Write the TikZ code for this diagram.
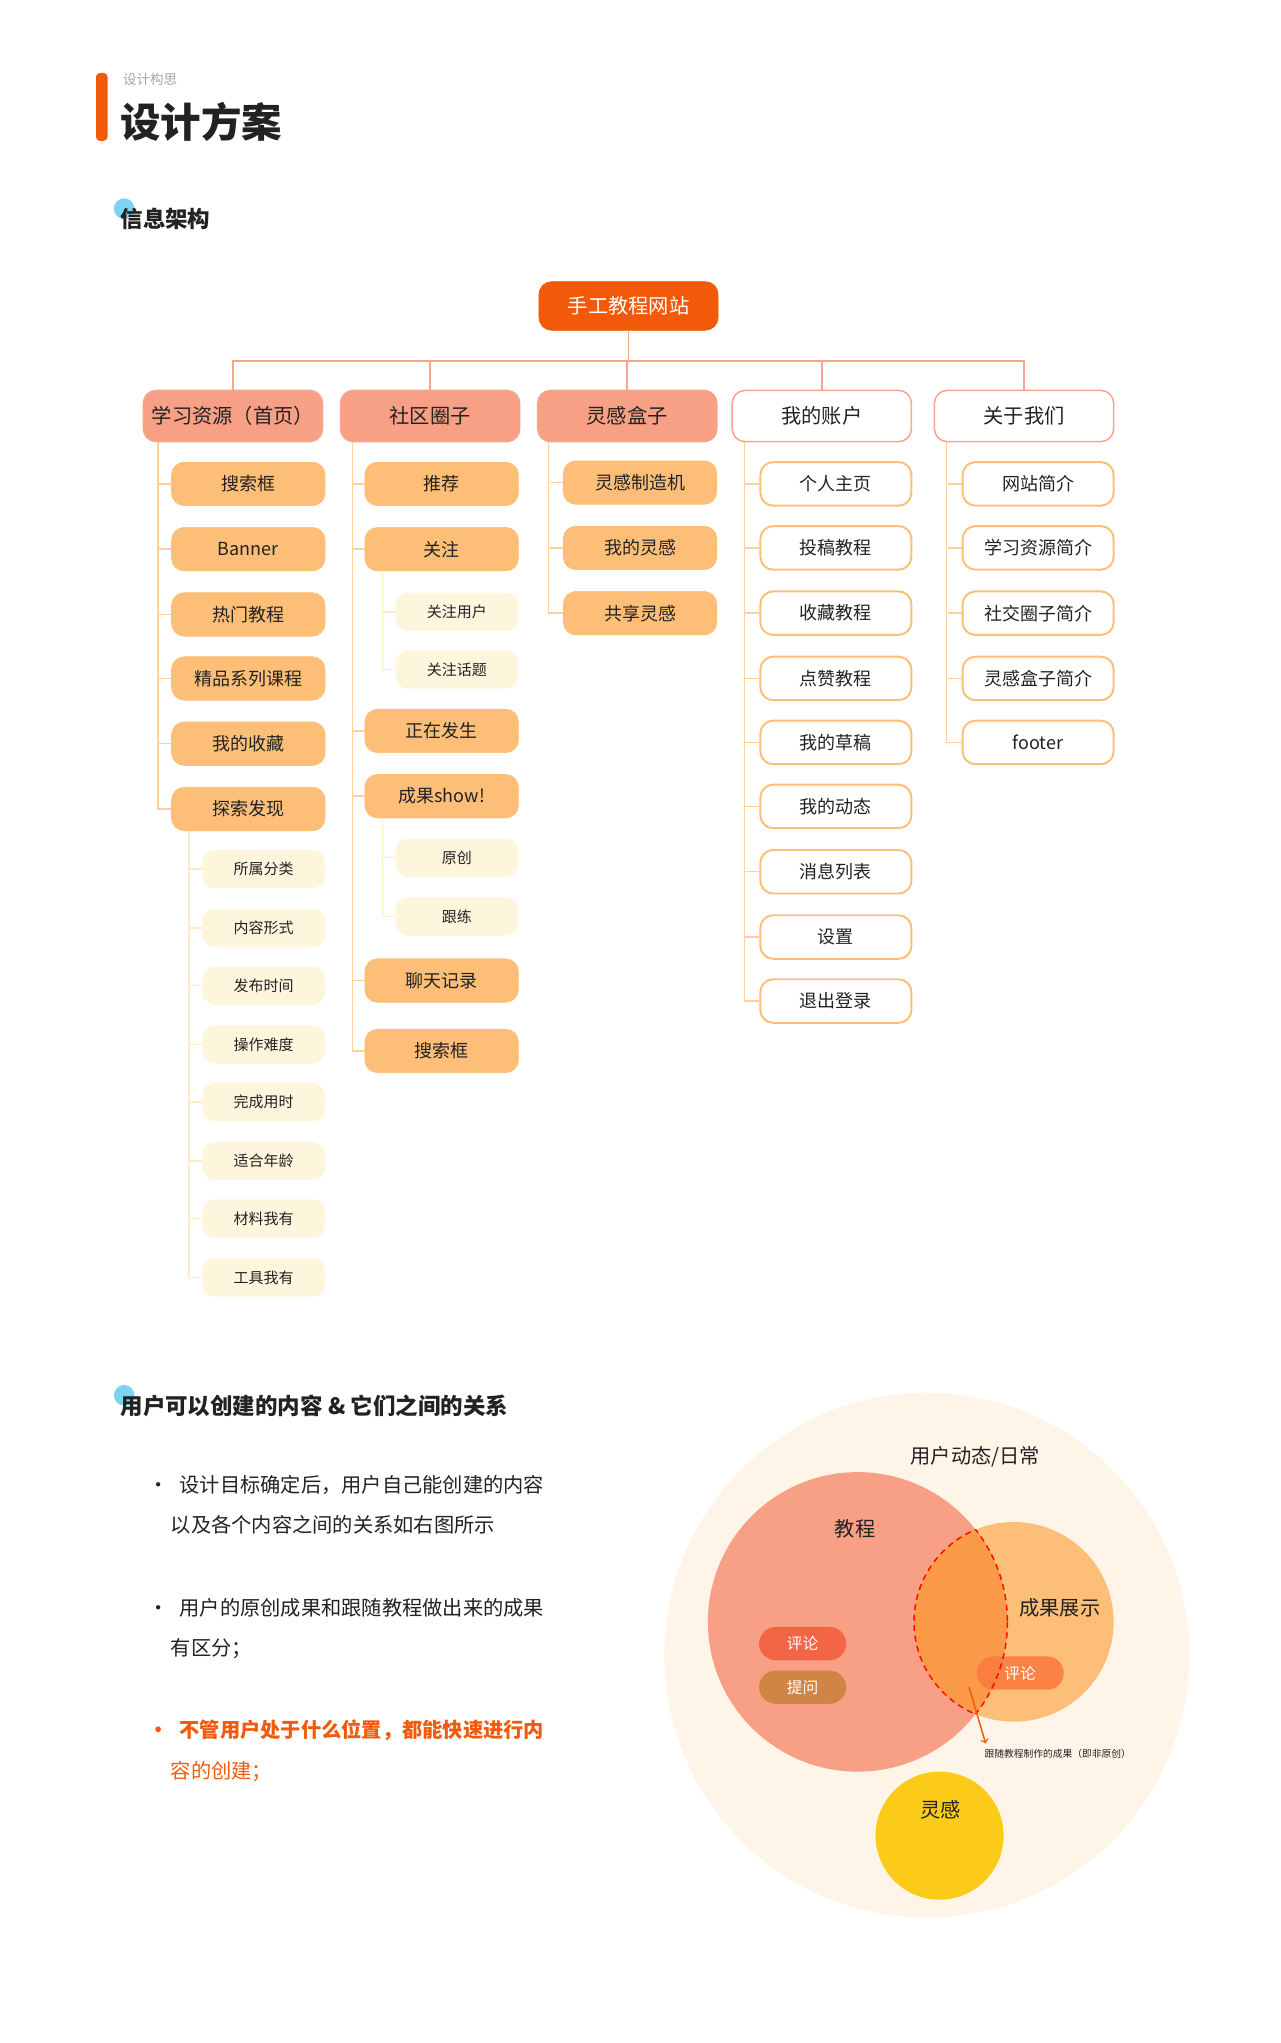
\documentclass[tikz,border=0pt]{standalone}
\usepackage{fontspec}
\setmainfont{Noto Sans CJK SC}
\usetikzlibrary{calc}
\definecolor{rootc}{HTML}{F25A0A}
\definecolor{salmon}{HTML}{F7A085}
\definecolor{salmonline}{HTML}{F4A68E}
\definecolor{orangec}{HTML}{FDBF78}
\definecolor{orangeline}{HTML}{FDD09E}
\definecolor{palec}{HTML}{FEF6DC}
\definecolor{paleline}{HTML}{FEEBC8}
\definecolor{bgc}{HTML}{FEF5E8}
\definecolor{lensc}{HTML}{FB9A48}
\definecolor{pillr}{HTML}{F26545}
\definecolor{pillb}{HTML}{D08445}
\definecolor{pillo}{HTML}{FB7B40}
\definecolor{yellowc}{HTML}{FCCB1A}
\definecolor{blued}{HTML}{7DD3F5}
\definecolor{txt}{HTML}{222222}
\tikzset{
  f/.style={font=\fontsize{#1}{#1}\selectfont},
  rootbox/.style={draw=rootc,fill=rootc,rounded corners=0.3cm,minimum width=4.2cm,minimum height=1.14cm,text=white,f=13.5},
  lonebox/.style={draw=salmonline,line width=1pt,fill=salmon,rounded corners=0.3cm,minimum width=4.2cm,minimum height=1.2cm,text=txt,f=13.5},
  lonewbox/.style={lonebox,fill=white},
  kidbox/.style={draw=orangec,fill=orangec,rounded corners=0.3cm,minimum width=3.6cm,minimum height=1.02cm,text=txt,f=12},
  kidwbox/.style={draw=orangec,line width=1.3pt,fill=white,rounded corners=0.3cm,minimum width=3.54cm,minimum height=1.02cm,text=txt,f=12},
  gkbox/.style={fill=palec,rounded corners=0.3cm,minimum width=2.88cm,minimum height=0.9cm,text=txt,f=10},
  topl/.style={draw=salmonline,line width=1pt},
  kidl/.style={draw=orangeline,line width=1pt},
  gkl/.style={draw=paleline,line width=1pt},
  pill/.style={rounded corners=0.39cm,minimum width=2.04cm,minimum height=0.78cm,text=white,f=10.5},
}
\begin{document}
\begin{tikzpicture}[x=0.03cm,y=-0.03cm]
\useasboundingbox (0,0) rectangle (1000,1596);
\fill[white] (0,0) rectangle (1000,1596);
% header
\fill[rootc,rounded corners=0.09cm] (75,57) rectangle (84,110);
\node[anchor=west,text=gray!70,f=9] (sub) at (92,62) {设计构思};
\node[anchor=west,text=txt,f=27] (title) at (90,95) {\bfseries 设计方案};
\fill[blued] (97,163) circle (8);
\node[anchor=west,text=txt,f=15] (h1) at (90,171) {\bfseries 信息架构};
% root and level 1
\node[rootbox] (root) at (491,239) {手工教程网站};
\node[lonebox] (la) at (182,325) {学习资源（首页）};
\node[lonebox] (lb) at (336,325) {社区圈子};
\node[lonebox] (lc) at (490,325) {灵感盒子};
\node[lonewbox] (ld) at (642,325) {我的账户};
\node[lonewbox] (le) at (800,325) {关于我们};
\coordinate (bus) at (491,282);
\draw[topl] (root.south) -- (bus);
\draw[topl] (la.north) |- (bus) -| (le.north);
\foreach \n in {lb,lc,ld} \draw[topl] (\n.north) -- (\n.north |- bus);
% column 1
\foreach \i/\y/\t in {1/378/搜索框,2/429/Banner,3/480/热门教程,4/530/精品系列课程,5/581/我的收藏,6/632/探索发现}
  \node[kidbox] (a\i) at (194,\y) {\t};
\draw[kidl] ($(la.south west)+(12,0)$) |- (a6.west);
\foreach \i in {1,...,5} \draw[kidl] (a\i.west) -- ++(-10,0);
\foreach \i/\y/\t in {1/679/所属分类,2/725/内容形式,3/770/发布时间,4/816/操作难度,5/861/完成用时,6/907/适合年龄,7/952/材料我有,8/998/工具我有}
  \node[gkbox] (g\i) at (206,\y) {\t};
\draw[gkl] ($(a6.south west)+(14,0)$) |- (g8.west);
\foreach \i in {1,...,7} \draw[gkl] (g\i.west) -- ++(-10,0);
% column 2
\node[kidbox] (b1) at (345,378) {推荐};
\node[kidbox] (b2) at (345,429) {关注};
\node[kidbox] (b3) at (345,571) {正在发生};
\node[kidbox] (b4) at (345,622) {成果show!};
\node[kidbox] (b5) at (345,766) {聊天记录};
\node[kidbox] (b6) at (345,821) {搜索框};
\draw[kidl] ($(lb.south west)+(10,0)$) |- (b6.west);
\foreach \i in {1,...,5} \draw[kidl] (b\i.west) -- ++(-10,0);
\node[gkbox] (h1a) at (357,478) {关注用户};
\node[gkbox] (h1b) at (357,523) {关注话题};
\draw[gkl] ($(b2.south west)+(14,0)$) |- (h1b.west);
\draw[gkl] (h1a.west) -- ++(-10,0);
\node[gkbox] (h2a) at (357,670) {原创};
\node[gkbox] (h2b) at (357,716) {跟练};
\draw[gkl] ($(b4.south west)+(14,0)$) |- (h2b.west);
\draw[gkl] (h2a.west) -- ++(-10,0);
% column 3
\node[kidbox] (c1) at (500,377) {灵感制造机};
\node[kidbox] (c2) at (500,428) {我的灵感};
\node[kidbox] (c3) at (500,479) {共享灵感};
\draw[kidl] ($(lc.south west)+(9,0)$) |- (c3.west);
\foreach \i in {1,2} \draw[kidl] (c\i.west) -- ++(-10,0);
% column 4
\foreach \i/\y/\t in {1/378/个人主页,2/428/投稿教程,3/479/收藏教程,4/530/点赞教程,5/580/我的草稿,6/630/我的动态,7/681/消息列表,8/732/设置,9/782/退出登录}
  \node[kidwbox] (d\i) at (653,\y) {\t};
\draw[kidl] ($(ld.south west)+(10,0)$) |- (d9.west);
\foreach \i in {1,...,8} \draw[kidl] (d\i.west) -- ++(-11,0);
% column 5
\foreach \i/\y/\t in {1/378/网站简介,2/428/学习资源简介,3/479/社交圈子简介,4/530/灵感盒子简介,5/580/footer}
  \node[kidwbox] (e\i) at (811,\y) {\t};
\draw[kidl] ($(le.south west)+(10,0)$) |- (e5.west);
\foreach \i in {1,...,4} \draw[kidl] (e\i.west) -- ++(-11,0);
% section 2
\fill[blued] (97,1090) circle (8);
\node[anchor=west,text=txt,f=15] (h2) at (90,1098) {\bfseries 用户可以创建的内容 \& 它们之间的关系};
\node[anchor=base west,text=txt,f=13.5,align=left] (t1) at (112,1197) {•\hspace{0.25cm}设计目标确定后，用户自己能创建的内容\\[0.45cm]\hspace{0.52cm}以及各个内容之间的关系如右图所示};
\node[anchor=base west,text=txt,f=13.5,align=left] (t2) at (112,1293) {•\hspace{0.25cm}用户的原创成果和跟随教程做出来的成果\\[0.45cm]\hspace{0.52cm}有区分；};
\node[anchor=base west,text=rootc,f=13.5,align=left] (t3) at (112,1389) {\bfseries •\hspace{0.25cm}不管用户处于什么位置，都能快速进行内\\[0.45cm]\hspace{0.52cm}容的创建；};
% venn
\fill[bgc] (724,1293) circle (205);
\node[text=txt,f=13.5] (u) at (762,1138) {用户动态/日常};
\fill[salmon] (670,1267) circle (117);
\fill[orangec] (792,1267) circle (78);
\begin{scope}\clip (670,1267) circle (117); \fill[lensc] (792,1267) circle (78);\end{scope}
\node[text=txt,f=13.5] (jc) at (668,1194) {教程};
\node[text=txt,f=13.5] (cg) at (828,1256) {成果展示};
\node[pill,fill=pillr] (p1) at (627,1284) {评论};
\node[pill,fill=pillb] (p2) at (627,1318) {提问};
\node[pill,fill=pillo,fill opacity=0.9,text opacity=1] (p3) at (797,1307) {评论};
\begin{scope}\clip (670,1267) circle (117); \draw[red!90!orange,dashed,line width=1pt,dash pattern=on 4pt off 3pt] (792,1267) circle (78);\end{scope}
\begin{scope}\clip (792,1267) circle (78); \draw[red!90!orange,dashed,line width=1pt,dash pattern=on 4pt off 3pt] (670,1267) circle (117);\end{scope}
\coordinate (as) at (757,1318);
\coordinate (ae) at (770,1362);
\draw[rootc,line width=1pt,->] (as) -- (ae);
\node[text=txt,f=6.5,anchor=west] (note) at (765,1370) {跟随教程制作的成果（即非原创）};
\fill[yellowc] (734,1434) circle (50);
\node[text=txt,f=13.5] (lg) at (735,1414) {灵感};
\end{tikzpicture}
\end{document}
